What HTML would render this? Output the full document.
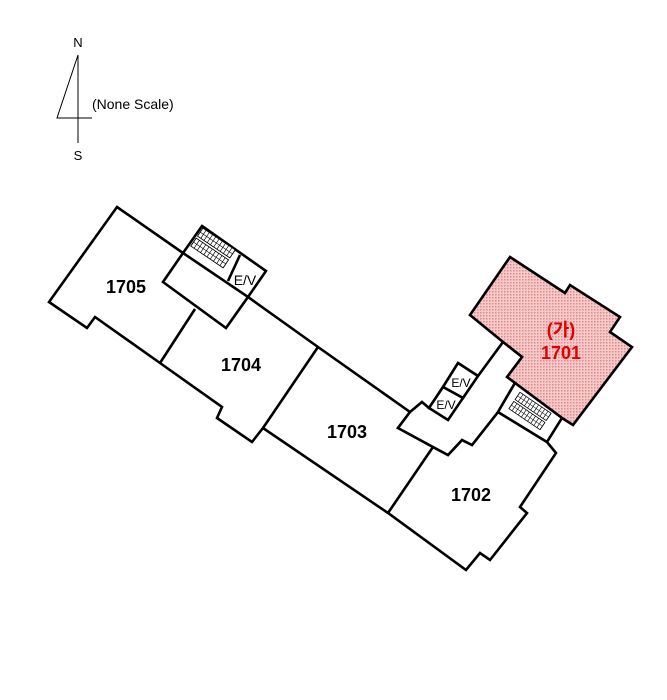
<!DOCTYPE html>
<html><head><meta charset="utf-8"><style>
html,body{margin:0;padding:0;background:#fff;}
svg{display:block;}
text{font-family:"Liberation Sans","Noto Sans CJK KR",sans-serif;}
</style></head><body>
<svg width="667" height="700" viewBox="0 0 667 700" xmlns="http://www.w3.org/2000/svg">
<defs>
<pattern id="dots" width="3" height="3" patternUnits="userSpaceOnUse">
<rect width="3" height="3" fill="#f6caca"/>
<rect width="1.5" height="1.5" fill="#e08a8a"/>
</pattern>
<g id="grid">
<rect x="-15" y="-9" width="30" height="8" fill="#fff" stroke="#000" stroke-width="0.7"/>
<rect x="-15" y="1" width="30" height="8" fill="#fff" stroke="#000" stroke-width="0.7"/>
<path d="M-12,-9V-1M-9,-9V-1M-6,-9V-1M-3,-9V-1M0,-9V-1M3,-9V-1M6,-9V-1M9,-9V-1M12,-9V-1M-15,-5H15M-12,1V9M-9,1V9M-6,1V9M-3,1V9M0,1V9M3,1V9M6,1V9M9,1V9M12,1V9M-15,5H15" stroke="#000" stroke-width="0.5" fill="none"/>
</g>
</defs>
<!-- compass -->
<text x="78" y="47" font-size="13" text-anchor="middle">N</text>
<line x1="78" y1="55" x2="78" y2="143" stroke="#000" stroke-width="1"/>
<path d="M78,55 L57,118 L92,118" stroke="#000" stroke-width="1" fill="none"/>
<text x="92" y="109" font-size="14">(None Scale)</text>
<text x="78" y="160" font-size="13" text-anchor="middle">S</text>

<g fill="none" stroke="#000" stroke-width="2.6" stroke-linejoin="miter">
<polygon fill="url(#dots)" points="510,257 565,293 570,285 620,317 610,332 632,347 573,425 562,418 515,383 507,377 522,357 503,342 470,315"/>
<path fill="#fff" d="M117,207 L183,253 L163,282 L226,328 L248,297 L318,347 L410,412 L398,428 L433,447 L448,455 L462,440 L472,445 L498,412 L547,442 L556,453 L520,507 L527,513 L490,560 L480,553 L466,570 L388,513 L263,428 L252,442 L217,418 L222,407 L160,363 L95,317 L87,328 L49,302 Z"/>
<polygon fill="#fff" points="202,226 266,271 248,297 183,253"/>
<line x1="240" y1="255" x2="228" y2="281"/>
<line x1="160" y1="363" x2="195" y2="309"/>
<line x1="263" y1="428" x2="318" y2="347"/>
<line x1="388" y1="513" x2="433" y2="447"/>
<path fill="#fff" d="M410,412 L422,402 L429,408 L443,387 L458,363 L478,376 L503,342 L522,357 L507,377 L515,383 L498,412 L472,445 L462,440 L448,455 L433,447 L398,428 Z"/>
<polygon fill="#fff" points="458,363 478,376 463,398 443,387"/>
<polygon fill="#fff" points="443,387 463,398 448,420 429,408"/>
<polygon fill="#fff" points="515,383 562,418 547,442 498,412"/>
</g>
<use href="#grid" transform="translate(213,248) rotate(34) scale(1.3,1.2)"/>
<use href="#grid" transform="translate(530,411) rotate(34) scale(1.25,1.1)"/>
<text x="245" y="285" font-size="14" text-anchor="middle">E/V</text>
<text x="461" y="387" font-size="12" text-anchor="middle">E/V</text>
<text x="446" y="409" font-size="12" text-anchor="middle">E/V</text>
<g font-size="18" font-weight="bold" text-anchor="middle">
<text x="126" y="293">1705</text>
<text x="241" y="371">1704</text>
<text x="347" y="438">1703</text>
<text x="471" y="501">1702</text>
<text x="561" y="336" fill="#e00000">(가)</text>
<text x="561" y="359" fill="#e00000">1701</text>
</g>
</svg>
</body></html>
